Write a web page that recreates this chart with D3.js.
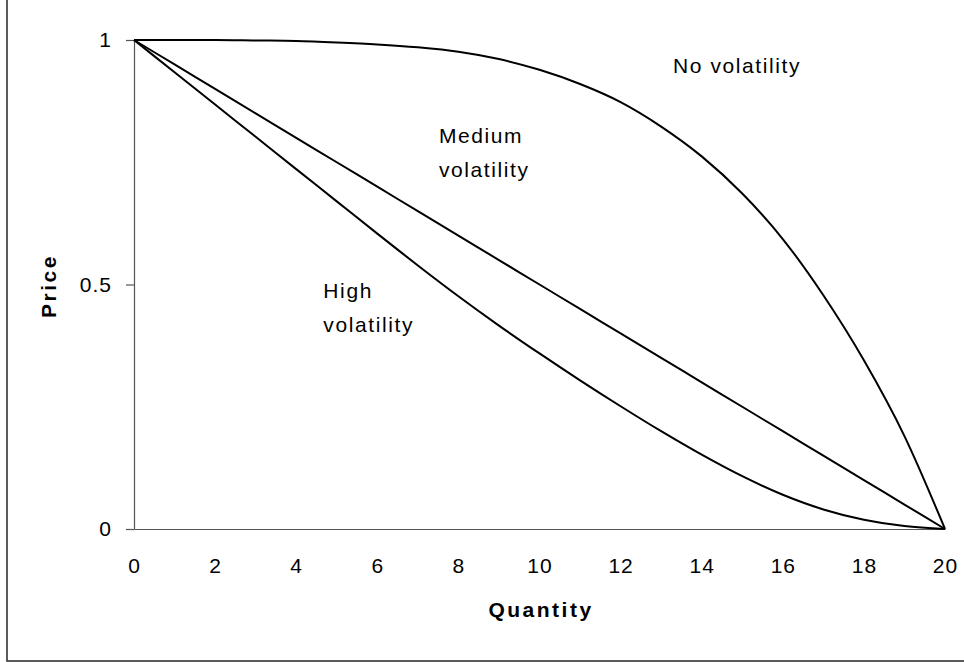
<!DOCTYPE html>
<html>
<head>
<meta charset="utf-8">
<script src="https://cdn.jsdelivr.net/npm/d3@7"></script>
<style>
  html, body { margin: 0; padding: 0; background: #fff; }
  svg { display: block; }
  text { font-family: "Liberation Sans", Arial, sans-serif; fill: #000; }
</style>
</head>
<body>
<svg id="chart" width="964" height="662"></svg>
<script>
// ---- data ----
const quantity = [0,1,2,3,4,5,6,7,8,9,10,11,12,13,14,15,16,17,18,19,20];
const noVolatility = [1,1,1,0.999,0.998,0.995,0.991,0.985,0.976,0.961,0.939,0.91,0.873,0.823,0.762,0.686,0.593,0.478,0.345,0.19,0];
const mediumVolatility = [1,0.95,0.9,0.85,0.8,0.75,0.7,0.65,0.6,0.55,0.5,0.45,0.4,0.35,0.3,0.25,0.2,0.15,0.1,0.05,0];
const highVolatility = [1,0.934,0.868,0.802,0.736,0.67,0.604,0.539,0.476,0.416,0.359,0.304,0.251,0.2,0.152,0.108,0.07,0.04,0.019,0.006,0];
const xTicks = [0,2,4,6,8,10,12,14,16,18,20];
const yTicks = [0,0.5,1];
const yTickLabels = ["0","0.5","1"];
const seriesLabels = [["No volatility"],["Medium","volatility"],["High","volatility"]];
const xTitle = "Quantity";
const yTitle = "Price";

// ---- layout ----
const svg = d3.select("#chart");
const x = d3.scaleLinear().domain([0,20]).range([134,945]);
const y = d3.scaleLinear().domain([0,1]).range([529,40]);

// outer frame (cropped at top and right)
svg.append("rect").attr("x",7).attr("y",-5).attr("width",980).attr("height",666)
  .attr("fill","none").attr("stroke","#333").attr("stroke-width",1.6);

// y axis
const yAxis = svg.append("g").attr("transform","translate(134,0)")
  .call(d3.axisLeft(y).tickValues(yTicks).tickSize(8).tickSizeOuter(0).tickPadding(14)
    .tickFormat((d,i)=>yTickLabels[i]));
// x axis
const xAxis = svg.append("g").attr("transform","translate(0,529)")
  .call(d3.axisBottom(x).tickValues(xTicks).tickSize(0).tickSizeOuter(0).tickPadding(29)
    .tickFormat(d3.format("d")));
[xAxis,yAxis].forEach(g=>{
  g.select(".domain").attr("stroke","#555").attr("stroke-width",1.2);
  g.selectAll(".tick line").attr("stroke","#555").attr("stroke-width",1.2);
  g.selectAll(".tick text").attr("font-size",21).attr("font-family","Liberation Sans, Arial, sans-serif")
    .attr("letter-spacing","1px").attr("fill","#000");
});

// lines
const line = d3.line().x((d,i)=>x(quantity[i])).y(d=>y(d)).curve(d3.curveMonotoneX);
[noVolatility, mediumVolatility, highVolatility].forEach(s=>{
  svg.append("path").datum(s).attr("d",line).attr("fill","none")
    .attr("stroke","#000").attr("stroke-width",2).attr("stroke-linejoin","round");
});

// series annotations
const labelAnchors = [[13.29,0.9325],[7.52,0.789],[4.67,0.4734]];
seriesLabels.forEach((lines,k)=>{
  const t = svg.append("text").attr("x",x(labelAnchors[k][0])).attr("y",y(labelAnchors[k][1]))
    .attr("font-size",21).attr("letter-spacing","1.6px");
  lines.forEach((s,j)=>{
    t.append("tspan").attr("x",x(labelAnchors[k][0])).attr("dy", j===0?0:34).text(s);
  });
});

// axis titles
svg.append("text").attr("x",541).attr("y",617).attr("text-anchor","middle")
  .attr("font-size",21).attr("font-weight","bold").attr("letter-spacing","2.5px").text(xTitle);
svg.append("text").attr("transform","translate(56,286) rotate(-90)").attr("text-anchor","middle")
  .attr("font-size",21).attr("font-weight","bold").attr("letter-spacing","2.5px").text(yTitle);
</script>
</body>
</html>
